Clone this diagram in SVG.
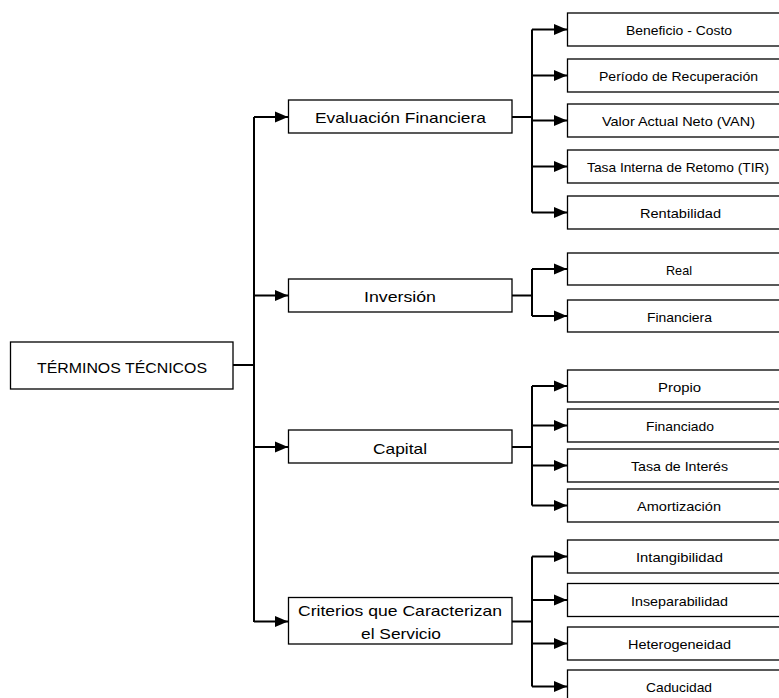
<svg xmlns="http://www.w3.org/2000/svg" width="779" height="698" viewBox="0 0 779 698">
<style>
  .box { fill: #fff; stroke: #000; stroke-width: 1.3; }
  .lbl { font-family: "Liberation Sans", Arial, sans-serif; fill: #000; text-anchor: middle; }
  .l1 { font-size: 15px; }
  .l2 { font-size: 13px; }
  .conn path { fill: none; stroke: #000; stroke-width: 2; }
</style>
<defs>
  <marker id="arr" markerUnits="userSpaceOnUse" markerWidth="13" markerHeight="12" refX="13" refY="6" orient="auto">
    <path d="M0,0.5 L13,6 L0,11.5 z" fill="#000"/>
  </marker>
</defs>
<rect width="779" height="698" fill="#fff"/>

<g class="conn" id="connectors">
  <path d="M233,365 H254"/>
  <path d="M254,117 V622"/>
  <path d="M254,117 H288" marker-end="url(#arr)"/>
  <path d="M254,295.5 H288" marker-end="url(#arr)"/>
  <path d="M254,447 H288" marker-end="url(#arr)"/>
  <path d="M254,621.5 H288" marker-end="url(#arr)"/>

  <path d="M512,117 H532"/>
  <path d="M532,29.5 V212.5"/>
  <path d="M532,29.5 H567" marker-end="url(#arr)"/>
  <path d="M532,75.5 H567" marker-end="url(#arr)"/>
  <path d="M532,120.5 H567" marker-end="url(#arr)"/>
  <path d="M532,166.5 H567" marker-end="url(#arr)"/>
  <path d="M532,212.5 H567" marker-end="url(#arr)"/>

  <path d="M512,295.5 H532"/>
  <path d="M532,269 V316"/>
  <path d="M532,269 H567" marker-end="url(#arr)"/>
  <path d="M532,316 H567" marker-end="url(#arr)"/>

  <path d="M512,447 H532"/>
  <path d="M532,386 V505.5"/>
  <path d="M532,386 H567" marker-end="url(#arr)"/>
  <path d="M532,425.5 H567" marker-end="url(#arr)"/>
  <path d="M532,465.5 H567" marker-end="url(#arr)"/>
  <path d="M532,505.5 H567" marker-end="url(#arr)"/>

  <path d="M512,621.5 H532"/>
  <path d="M532,556.5 V686.5"/>
  <path d="M532,556.5 H567" marker-end="url(#arr)"/>
  <path d="M532,600 H567" marker-end="url(#arr)"/>
  <path d="M532,643.5 H567" marker-end="url(#arr)"/>
  <path d="M532,686.5 H567" marker-end="url(#arr)"/>
</g>

<g id="root">
  <rect class="box" x="10.5" y="342" width="222.5" height="47"/>
  <text class="lbl l1" x="122" y="372.5" textLength="170" lengthAdjust="spacingAndGlyphs">TÉRMINOS TÉCNICOS</text>
</g>

<g id="evaluacion">
  <rect class="box" x="288.5" y="100" width="223.5" height="33"/>
  <text class="lbl l1" x="400.5" y="123" textLength="171" lengthAdjust="spacingAndGlyphs">Evaluación Financiera</text>
</g>
<g id="inversion">
  <rect class="box" x="288.5" y="279" width="223.5" height="33"/>
  <text class="lbl l1" x="400" y="301.5" textLength="72" lengthAdjust="spacingAndGlyphs">Inversión</text>
</g>
<g id="capital">
  <rect class="box" x="288.5" y="430" width="223.5" height="33"/>
  <text class="lbl l1" x="400" y="453.5" textLength="54" lengthAdjust="spacingAndGlyphs">Capital</text>
</g>
<g id="criterios">
  <rect class="box" x="288.5" y="597.5" width="223.5" height="46.5"/>
  <text class="lbl l1" x="400" y="616" textLength="204" lengthAdjust="spacingAndGlyphs">Criterios que Caracterizan</text>
  <text class="lbl l1" x="401" y="639" textLength="80" lengthAdjust="spacingAndGlyphs">el Servicio</text>
</g>

<g id="beneficio-costo">
  <rect class="box" x="567.5" y="13" width="225" height="33"/>
  <text class="lbl l2" x="679" y="35" textLength="106" lengthAdjust="spacingAndGlyphs">Beneficio - Costo</text>
</g>
<g id="periodo">
  <rect class="box" x="567.5" y="59" width="225" height="33"/>
  <text class="lbl l2" x="678.5" y="81" textLength="159" lengthAdjust="spacingAndGlyphs">Período de Recuperación</text>
</g>
<g id="van">
  <rect class="box" x="567.5" y="104" width="225" height="33"/>
  <text class="lbl l2" x="678.5" y="126" textLength="153" lengthAdjust="spacingAndGlyphs">Valor Actual Neto (VAN)</text>
</g>
<g id="tir">
  <rect class="box" x="567.5" y="150" width="225" height="33"/>
  <text class="lbl l2" x="678" y="172" textLength="182" lengthAdjust="spacingAndGlyphs">Tasa Interna de Retomo (TIR)</text>
</g>
<g id="rentabilidad">
  <rect class="box" x="567.5" y="196" width="225" height="33"/>
  <text class="lbl l2" x="680.5" y="218" textLength="81" lengthAdjust="spacingAndGlyphs">Rentabilidad</text>
</g>

<g id="real">
  <rect class="box" x="567.5" y="253" width="225" height="32"/>
  <text class="lbl l2" x="679" y="274.5" textLength="26" lengthAdjust="spacingAndGlyphs">Real</text>
</g>
<g id="financiera">
  <rect class="box" x="567.5" y="300" width="225" height="32"/>
  <text class="lbl l2" x="679.5" y="321.5" textLength="65" lengthAdjust="spacingAndGlyphs">Financiera</text>
</g>

<g id="propio">
  <rect class="box" x="567.5" y="370" width="225" height="32"/>
  <text class="lbl l2" x="679.5" y="391.5" textLength="43" lengthAdjust="spacingAndGlyphs">Propio</text>
</g>
<g id="financiado">
  <rect class="box" x="567.5" y="409" width="225" height="33"/>
  <text class="lbl l2" x="680" y="431" textLength="68" lengthAdjust="spacingAndGlyphs">Financiado</text>
</g>
<g id="tasa-interes">
  <rect class="box" x="567.5" y="449" width="225" height="33"/>
  <text class="lbl l2" x="679.5" y="471" textLength="97" lengthAdjust="spacingAndGlyphs">Tasa de Interés</text>
</g>
<g id="amortizacion">
  <rect class="box" x="567.5" y="489" width="225" height="33"/>
  <text class="lbl l2" x="679" y="511" textLength="84" lengthAdjust="spacingAndGlyphs">Amortización</text>
</g>

<g id="intangibilidad">
  <rect class="box" x="567.5" y="540" width="225" height="33"/>
  <text class="lbl l2" x="679.5" y="562" textLength="87" lengthAdjust="spacingAndGlyphs">Intangibilidad</text>
</g>
<g id="inseparabilidad">
  <rect class="box" x="567.5" y="583.5" width="225" height="33"/>
  <text class="lbl l2" x="679.5" y="605.5" textLength="97" lengthAdjust="spacingAndGlyphs">Inseparabilidad</text>
</g>
<g id="heterogeneidad">
  <rect class="box" x="567.5" y="627" width="225" height="33"/>
  <text class="lbl l2" x="679.5" y="649" textLength="103" lengthAdjust="spacingAndGlyphs">Heterogeneidad</text>
</g>
<g id="caducidad">
  <rect class="box" x="567.5" y="670" width="225" height="33"/>
  <text class="lbl l2" x="679" y="692" textLength="66" lengthAdjust="spacingAndGlyphs">Caducidad</text>
</g>
</svg>
